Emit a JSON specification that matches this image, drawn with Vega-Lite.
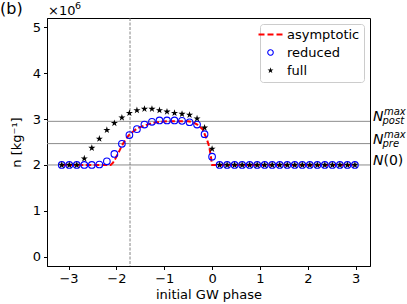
{
  "$schema": "https://vega.github.io/schema/vega-lite/v6.json",
  "width": 323,
  "height": 248,
  "autosize": "none",
  "padding": {"left": 47, "top": 18, "right": 37, "bottom": 38},
  "config": {
    "font": "DejaVu Sans",
    "view": {"stroke": "#000000", "strokeWidth": 1},
    "axis": {
      "domainColor": "#000000", "tickColor": "#000000", "tickSize": 3.5, "tickWidth": 1,
      "labelFontSize": 13, "labelColor": "#000000", "labelFont": "DejaVu Sans",
      "titleFontSize": 13, "titleFontWeight": "normal", "titleColor": "#000000", "titleFont": "DejaVu Sans",
      "grid": false
    }
  },
  "datasets": {
    "curves": [
      {"phase": -3.1416, "n": 2.0, "series": "full"},
      {"phase": -2.9845, "n": 2.0, "series": "full"},
      {"phase": -2.8274, "n": 2.0, "series": "full"},
      {"phase": -2.6704, "n": 2.14, "series": "full"},
      {"phase": -2.5133, "n": 2.37, "series": "full"},
      {"phase": -2.3562, "n": 2.57, "series": "full"},
      {"phase": -2.1991, "n": 2.76, "series": "full"},
      {"phase": -2.042, "n": 2.91, "series": "full"},
      {"phase": -1.885, "n": 3.03, "series": "full"},
      {"phase": -1.7279, "n": 3.13, "series": "full"},
      {"phase": -1.5708, "n": 3.19, "series": "full"},
      {"phase": -1.4137, "n": 3.22, "series": "full"},
      {"phase": -1.2566, "n": 3.22, "series": "full"},
      {"phase": -1.0996, "n": 3.19, "series": "full"},
      {"phase": -0.9425, "n": 3.16, "series": "full"},
      {"phase": -0.7854, "n": 3.13, "series": "full"},
      {"phase": -0.6283, "n": 3.11, "series": "full"},
      {"phase": -0.4712, "n": 3.09, "series": "full"},
      {"phase": -0.3142, "n": 3.01, "series": "full"},
      {"phase": -0.1571, "n": 2.81, "series": "full"},
      {"phase": 0.0, "n": 2.35, "series": "full"},
      {"phase": 0.1571, "n": 2.0, "series": "full"},
      {"phase": 0.3142, "n": 2.0, "series": "full"},
      {"phase": 0.4712, "n": 2.0, "series": "full"},
      {"phase": 0.6283, "n": 2.0, "series": "full"},
      {"phase": 0.7854, "n": 2.0, "series": "full"},
      {"phase": 0.9425, "n": 2.0, "series": "full"},
      {"phase": 1.0996, "n": 2.0, "series": "full"},
      {"phase": 1.2566, "n": 2.0, "series": "full"},
      {"phase": 1.4137, "n": 2.0, "series": "full"},
      {"phase": 1.5708, "n": 2.0, "series": "full"},
      {"phase": 1.7279, "n": 2.0, "series": "full"},
      {"phase": 1.885, "n": 2.0, "series": "full"},
      {"phase": 2.042, "n": 2.0, "series": "full"},
      {"phase": 2.1991, "n": 2.0, "series": "full"},
      {"phase": 2.3562, "n": 2.0, "series": "full"},
      {"phase": 2.5133, "n": 2.0, "series": "full"},
      {"phase": 2.6704, "n": 2.0, "series": "full"},
      {"phase": 2.8274, "n": 2.0, "series": "full"},
      {"phase": 2.9845, "n": 2.0, "series": "full"},
      {"phase": -3.1416, "n": 2.0, "series": "reduced"},
      {"phase": -2.9845, "n": 2.0, "series": "reduced"},
      {"phase": -2.8274, "n": 2.0, "series": "reduced"},
      {"phase": -2.6704, "n": 2.0, "series": "reduced"},
      {"phase": -2.5133, "n": 2.0, "series": "reduced"},
      {"phase": -2.3562, "n": 2.01, "series": "reduced"},
      {"phase": -2.1991, "n": 2.08, "series": "reduced"},
      {"phase": -2.042, "n": 2.24, "series": "reduced"},
      {"phase": -1.885, "n": 2.46, "series": "reduced"},
      {"phase": -1.7279, "n": 2.65, "series": "reduced"},
      {"phase": -1.5708, "n": 2.78, "series": "reduced"},
      {"phase": -1.4137, "n": 2.88, "series": "reduced"},
      {"phase": -1.2566, "n": 2.94, "series": "reduced"},
      {"phase": -1.0996, "n": 2.97, "series": "reduced"},
      {"phase": -0.9425, "n": 2.97, "series": "reduced"},
      {"phase": -0.7854, "n": 2.97, "series": "reduced"},
      {"phase": -0.6283, "n": 2.96, "series": "reduced"},
      {"phase": -0.4712, "n": 2.93, "series": "reduced"},
      {"phase": -0.3142, "n": 2.88, "series": "reduced"},
      {"phase": -0.1571, "n": 2.67, "series": "reduced"},
      {"phase": 0.0, "n": 2.18, "series": "reduced"},
      {"phase": 0.1571, "n": 2.0, "series": "reduced"},
      {"phase": 0.3142, "n": 2.0, "series": "reduced"},
      {"phase": 0.4712, "n": 2.0, "series": "reduced"},
      {"phase": 0.6283, "n": 2.0, "series": "reduced"},
      {"phase": 0.7854, "n": 2.0, "series": "reduced"},
      {"phase": 0.9425, "n": 2.0, "series": "reduced"},
      {"phase": 1.0996, "n": 2.0, "series": "reduced"},
      {"phase": 1.2566, "n": 2.0, "series": "reduced"},
      {"phase": 1.4137, "n": 2.0, "series": "reduced"},
      {"phase": 1.5708, "n": 2.0, "series": "reduced"},
      {"phase": 1.7279, "n": 2.0, "series": "reduced"},
      {"phase": 1.885, "n": 2.0, "series": "reduced"},
      {"phase": 2.042, "n": 2.0, "series": "reduced"},
      {"phase": 2.1991, "n": 2.0, "series": "reduced"},
      {"phase": 2.3562, "n": 2.0, "series": "reduced"},
      {"phase": 2.5133, "n": 2.0, "series": "reduced"},
      {"phase": 2.6704, "n": 2.0, "series": "reduced"},
      {"phase": 2.8274, "n": 2.0, "series": "reduced"},
      {"phase": 2.9845, "n": 2.0, "series": "reduced"},
      {"phase": -3.1416, "n": 2.0, "series": "asymptotic"},
      {"phase": -2.12, "n": 2.0, "series": "asymptotic"},
      {"phase": -2.07, "n": 2.05, "series": "asymptotic"},
      {"phase": -2.02, "n": 2.14, "series": "asymptotic"},
      {"phase": -1.95, "n": 2.28, "series": "asymptotic"},
      {"phase": -1.88, "n": 2.43, "series": "asymptotic"},
      {"phase": -1.81, "n": 2.55, "series": "asymptotic"},
      {"phase": -1.74, "n": 2.65, "series": "asymptotic"},
      {"phase": -1.65, "n": 2.73, "series": "asymptotic"},
      {"phase": -1.56, "n": 2.8, "series": "asymptotic"},
      {"phase": -1.41, "n": 2.86, "series": "asymptotic"},
      {"phase": -1.26, "n": 2.91, "series": "asymptotic"},
      {"phase": -1.1, "n": 2.94, "series": "asymptotic"},
      {"phase": -0.94, "n": 2.95, "series": "asymptotic"},
      {"phase": -0.5, "n": 2.95, "series": "asymptotic"},
      {"phase": -0.4, "n": 2.93, "series": "asymptotic"},
      {"phase": -0.31, "n": 2.88, "series": "asymptotic"},
      {"phase": -0.2, "n": 2.78, "series": "asymptotic"},
      {"phase": -0.11, "n": 2.56, "series": "asymptotic"},
      {"phase": -0.06, "n": 2.4, "series": "asymptotic"},
      {"phase": -0.02, "n": 2.15, "series": "asymptotic"},
      {"phase": 0.0, "n": 2.0, "series": "asymptotic"},
      {"phase": 2.9845, "n": 2.0, "series": "asymptotic"}
    ],
    "levels": [
      {"n": 2.0, "main": "N", "sup": "", "sub": "", "rest": "(0)"},
      {"n": 2.465, "main": "N", "sup": "max", "sub": "pre", "rest": ""},
      {"n": 2.95, "main": "N", "sup": "max", "sub": "post", "rest": ""}
    ],
    "phase0": [{"phase": -1.715}]
  },
  "layer": [
    {
      "data": {"name": "levels"},
      "mark": {"type": "rule", "color": "#8c8c8c", "strokeWidth": 1},
      "encoding": {"y": {"field": "n", "type": "quantitative"}}
    },
    {
      "data": {"name": "phase0"},
      "mark": {"type": "rule", "color": "#666666", "strokeWidth": 0.8, "strokeDash": [3, 1.5]},
      "encoding": {"x": {"field": "phase", "type": "quantitative"}}
    },
    {
      "data": {"name": "curves"},
      "transform": [{"filter": "datum.series === 'asymptotic'"}],
      "mark": {"type": "line", "strokeWidth": 2, "strokeDash": [5.5, 2.5]},
      "encoding": {
        "x": {"field": "phase", "type": "quantitative", "scale": {"domain": [-3.45, 3.3], "nice": false, "zero": false},
              "axis": {"values": [-3, -2, -1, 0, 1, 2, 3], "format": "d", "title": "initial GW phase", "labelPadding": 3, "titlePadding": 3}},
        "y": {"field": "n", "type": "quantitative", "scale": {"domain": [-0.2, 5.2], "nice": false, "zero": false},
              "axis": {"values": [0, 1, 2, 3, 4, 5], "format": "d", "title": "n [kg⁻¹]", "labelPadding": 3, "titlePadding": 9}},
        "color": {
          "field": "series", "type": "nominal",
          "scale": {"domain": ["asymptotic", "reduced", "full"], "range": ["#ff0000", "#0000ff", "#000000"]},
          "legend": {
            "title": null, "orient": "top-right", "offset": 6,
            "labelFontSize": 13, "labelFont": "DejaVu Sans", "labelColor": "#000000",
            "fillColor": "#ffffff", "strokeColor": "#cccccc", "cornerRadius": 3, "padding": 4,
            "symbolSize": 576, "rowPadding": 4, "labelOffset": 10,
            "encode": {
              "symbols": {
                "update": {
                  "shape": {"signal": "datum.value === 'asymptotic' ? 'M-1,0H-0.5M-0.25,0H0.25M0.5,0H1' : (datum.value === 'reduced' ? 'circle' : 'M0,-1L0.2245,-0.309L0.951,-0.309L0.3633,0.118L0.588,0.809L0,0.382L-0.588,0.809L-0.3633,0.118L-0.951,-0.309L-0.2245,-0.309Z')"},
                  "size": {"signal": "datum.value === 'asymptotic' ? 576 : (datum.value === 'reduced' ? 30 : 40)"},
                  "fill": {"signal": "datum.value === 'full' ? '#000000' : 'transparent'"},
                  "fillOpacity": {"signal": "datum.value === 'full' ? 1 : 0"},
                  "stroke": {"signal": "datum.value === 'full' ? '#000000' : (datum.value === 'reduced' ? '#0000ff' : '#ff0000')"},
                  "strokeOpacity": {"value": 1},
                  "strokeWidth": {"signal": "datum.value === 'asymptotic' ? 2 : (datum.value === 'reduced' ? 1.1 : 0)"},
                  "strokeDash": {"signal": "[1, 0]"},
                  "opacity": {"value": 1}
                }
              }
            }
          }
        }
      }
    },
    {
      "data": {"name": "curves"},
      "transform": [{"filter": "datum.series === 'reduced'"}],
      "mark": {"type": "point", "shape": "circle", "filled": false, "strokeWidth": 1.1, "size": 44, "opacity": 1},
      "encoding": {
        "x": {"field": "phase", "type": "quantitative"},
        "y": {"field": "n", "type": "quantitative"},
        "color": {"field": "series", "type": "nominal"}
      }
    },
    {
      "data": {"name": "curves"},
      "transform": [{"filter": "datum.series === 'full'"}],
      "mark": {"type": "point", "shape": "M0,-1L0.2245,-0.309L0.951,-0.309L0.3633,0.118L0.588,0.809L0,0.382L-0.588,0.809L-0.3633,0.118L-0.951,-0.309L-0.2245,-0.309Z", "filled": true, "size": 56, "opacity": 1, "strokeWidth": 0},
      "encoding": {
        "x": {"field": "phase", "type": "quantitative"},
        "y": {"field": "n", "type": "quantitative"},
        "color": {"field": "series", "type": "nominal"}
      }
    },
    {
      "data": {"name": "levels"},
      "mark": {"type": "text", "align": "left", "baseline": "alphabetic", "fontSize": 14, "fontStyle": "italic", "dx": 3, "color": "#000000"},
      "encoding": {"x": {"datum": 3.3}, "y": {"field": "n", "type": "quantitative"}, "text": {"field": "main"}}
    },
    {
      "data": {"name": "levels"},
      "mark": {"type": "text", "align": "left", "baseline": "alphabetic", "fontSize": 10, "fontStyle": "italic", "dx": 14, "dy": -6, "color": "#000000"},
      "encoding": {"x": {"datum": 3.3}, "y": {"field": "n", "type": "quantitative"}, "text": {"field": "sup"}}
    },
    {
      "data": {"name": "levels"},
      "mark": {"type": "text", "align": "left", "baseline": "alphabetic", "fontSize": 10, "fontStyle": "italic", "dx": 12.5, "dy": 3, "color": "#000000"},
      "encoding": {"x": {"datum": 3.3}, "y": {"field": "n", "type": "quantitative"}, "text": {"field": "sub"}}
    },
    {
      "data": {"name": "levels"},
      "mark": {"type": "text", "align": "left", "baseline": "alphabetic", "fontSize": 14, "dx": 13.5, "color": "#000000"},
      "encoding": {"x": {"datum": 3.3}, "y": {"field": "n", "type": "quantitative"}, "text": {"field": "rest"}}
    },
    {
      "data": {"values": [{"t": "(b)"}]},
      "mark": {"type": "text", "align": "left", "baseline": "alphabetic", "fontSize": 16, "dx": -47, "dy": -4.5, "color": "#000000"},
      "encoding": {"x": {"datum": -3.45}, "y": {"datum": 5.2}, "text": {"field": "t"}}
    },
    {
      "data": {"values": [{"t": "×10"}]},
      "mark": {"type": "text", "align": "left", "baseline": "alphabetic", "fontSize": 13, "dx": 1, "dy": -3, "color": "#000000"},
      "encoding": {"x": {"datum": -3.45}, "y": {"datum": 5.2}, "text": {"field": "t"}}
    },
    {
      "data": {"values": [{"t": "6"}]},
      "mark": {"type": "text", "align": "left", "baseline": "alphabetic", "fontSize": 9.5, "dx": 28, "dy": -9.5, "color": "#000000"},
      "encoding": {"x": {"datum": -3.45}, "y": {"datum": 5.2}, "text": {"field": "t"}}
    }
  ]
}
